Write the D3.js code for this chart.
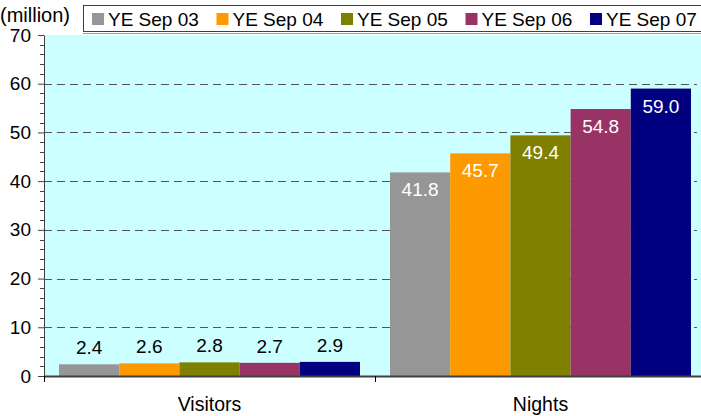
<!DOCTYPE html>
<html>
<head>
<meta charset="utf-8">
<script src="https://cdn.jsdelivr.net/npm/d3@7"></script>
<style>
  body { margin: 0; background: #fff; }
  text { font-family: "Liberation Sans", Arial, sans-serif; }
</style>
</head>
<body>
<svg width="701" height="416"></svg>
<script>
// chart data
var categories = ["Visitors", "Nights"];
var seriesNames = ["YE Sep 03", "YE Sep 04", "YE Sep 05", "YE Sep 06", "YE Sep 07"];
var seriesColors = ["#969696", "#ff9900", "#808000", "#993366", "#000080"];
var visitors = [2.4, 2.6, 2.8, 2.7, 2.9];
var nights = [41.8, 45.7, 49.4, 54.8, 59.0];
var yTicks = [0, 10, 20, 30, 40, 50, 60, 70];

var svg = d3.select("svg");
var plotLeft = 44, plotRight = 706, plotTop = 35, plotBottom = 376;

var x0 = d3.scaleBand().domain(categories).range([plotLeft, plotRight]).paddingInner(0).paddingOuter(0);
var x1 = d3.scaleBand().domain(seriesNames).range([15, x0.bandwidth() - 15]);
var y = d3.scaleLinear().domain([0, 70]).range([plotBottom, plotTop]);

// plot background
svg.append("rect")
  .attr("x", plotLeft).attr("y", plotTop)
  .attr("width", plotRight - plotLeft).attr("height", plotBottom - plotTop)
  .attr("fill", "#ccffff");

// gridlines
svg.append("g").selectAll("line")
  .data(yTicks.filter(d => d > 0 && d < 70))
  .enter().append("line")
  .attr("x1", plotLeft).attr("x2", 697)
  .attr("y1", d => Math.round(y(d)) + 0.5).attr("y2", d => Math.round(y(d)) + 0.5)
  .attr("stroke", "#555")
  .attr("stroke-dasharray", "8,5");

var rows = categories.map((c, i) => ({
  cat: c,
  values: (i == 0 ? visitors : nights).map((v, j) => ({ name: seriesNames[j], value: v, color: seriesColors[j] }))
}));

var groups = svg.append("g").selectAll("g")
  .data(rows)
  .enter().append("g")
  .attr("transform", d => "translate(" + x0(d.cat) + ",0)");

groups.selectAll("rect")
  .data(d => d.values)
  .enter().append("rect")
  .attr("x", d => x1(d.name))
  .attr("width", x1.bandwidth())
  .attr("y", d => y(d.value))
  .attr("height", d => plotBottom - y(d.value))
  .attr("fill", d => d.color);

// value labels: inside for tall bars, above for short bars
groups.selectAll("text")
  .data(d => d.values)
  .enter().append("text")
  .attr("x", d => x1(d.name) + x1.bandwidth() / 2)
  .attr("y", d => d.value > 20 ? y(d.value) + 24 : y(d.value) - 10)
  .attr("text-anchor", "middle")
  .attr("font-size", 19)
  .attr("fill", d => d.value > 20 ? "#fff" : "#000")
  .text(d => d.value.toFixed(1));

// y axis
var yAxis = d3.axisLeft(y).tickValues(yTicks).tickSize(6).tickSizeOuter(0);
var ya = svg.append("g").attr("transform", "translate(" + plotLeft + ",0)").call(yAxis);
ya.select(".domain").attr("stroke", "#404040");
ya.selectAll(".tick line").attr("stroke", "#404040");
ya.selectAll(".tick text").attr("font-size", 19).attr("fill", "#000").attr("x", -13)
  .attr("font-family", "Liberation Sans, Arial, sans-serif");

var minor = d3.range(0, 71, 2).filter(d => d % 10 != 0);
svg.append("g").selectAll("line")
  .data(minor).enter().append("line")
  .attr("x1", plotLeft - 4).attr("x2", plotLeft)
  .attr("y1", d => Math.round(y(d)) + 0.5).attr("y2", d => Math.round(y(d)) + 0.5)
  .attr("stroke", "#404040");

// x axis
svg.append("line")
  .attr("x1", plotLeft).attr("x2", plotRight)
  .attr("y1", plotBottom + 0.5).attr("y2", plotBottom + 0.5)
  .attr("stroke", "#404040").attr("stroke-width", 2);
svg.append("g").selectAll("line")
  .data([plotLeft, x0("Nights"), plotRight]).enter().append("line")
  .attr("x1", d => d + 0.5).attr("x2", d => d + 0.5)
  .attr("y1", plotBottom).attr("y2", plotBottom + 6)
  .attr("stroke", "#000");
svg.append("g").selectAll("text")
  .data(categories).enter().append("text")
  .attr("x", d => x0(d) + x0.bandwidth() / 2)
  .attr("y", 411)
  .attr("text-anchor", "middle")
  .attr("font-size", 19.5)
  .text(d => d);

// unit label
svg.append("text").attr("x", 0).attr("y", 22).attr("font-size", 20).text("(million)");

// legend
svg.append("rect")
  .attr("x", 83.5).attr("y", 5.5).attr("width", 640).attr("height", 26)
  .attr("fill", "#fff").attr("stroke", "#404040");
svg.append("line").attr("x1", 83).attr("x2", 701).attr("y1", 33.5).attr("y2", 33.5)
  .attr("stroke", "#999");
var legend = svg.append("g").selectAll("g")
  .data(seriesNames).enter().append("g")
  .attr("transform", (d, i) => "translate(" + (92 + i * 124.5) + ",13)");
legend.append("rect").attr("width", 12).attr("height", 12).attr("fill", (d, i) => seriesColors[i]);
legend.append("text").attr("x", 16).attr("y", 13).attr("font-size", 19).text(d => d);
</script>
</body>
</html>
